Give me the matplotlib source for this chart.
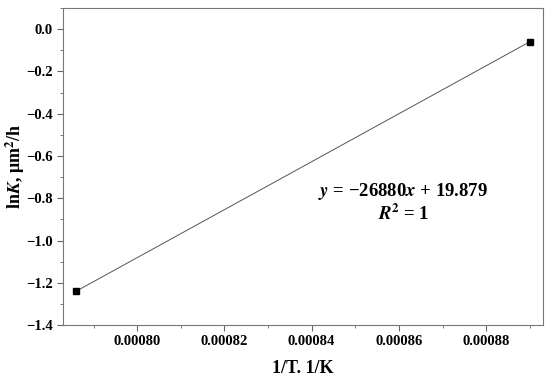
import matplotlib
matplotlib.use("Agg")
import matplotlib.pyplot as plt
from matplotlib.ticker import MultipleLocator, FormatStrFormatter, FuncFormatter

inv_T = [0.000786, 0.000890]
lnK = [-1.24, -0.06]
xticks = [0.00080, 0.00082, 0.00084, 0.00086, 0.00088]
yticks = [-1.4, -1.2, -1.0, -0.8, -0.6, -0.4, -0.2, 0.0]

plt.rcParams['font.family'] = 'Liberation Serif'
plt.rcParams['font.weight'] = 'bold'
plt.rcParams['mathtext.fontset'] = 'stix'

fig = plt.figure(figsize=(5.5, 3.78), dpi=100)
ax = fig.add_axes([0.1145, 0.140, 0.8725, 0.839])
ax.plot(inv_T, lnK, color='#555555', lw=0.7, zorder=1)
ax.plot(inv_T, lnK, 's', color='black', ms=5, zorder=2, linestyle='none')

ax.set_xlim(0.000783, 0.000893)
ax.set_ylim(-1.4, 0.1)
ax.set_xticks(xticks)
ax.set_yticks(yticks)
ax.xaxis.set_major_formatter(FormatStrFormatter('%.5f'))
ax.yaxis.set_major_formatter(FuncFormatter(lambda v, p: ('%.1f' % v).replace('-', '\u2212')))
ax.xaxis.set_minor_locator(MultipleLocator(0.00001))
ax.yaxis.set_minor_locator(MultipleLocator(0.1))
ax.tick_params(which='both', direction='out', top=False, right=False,
               color='#666666', labelsize=10.5)
ax.tick_params(which='major', length=4)
ax.tick_params(which='minor', length=2.5)
for lbl in ax.get_xticklabels() + ax.get_yticklabels():
    lbl.set_fontweight('bold')
for s in ax.spines.values():
    s.set_color('#777777')
    s.set_linewidth(0.8)

ax.set_xlabel('1/T. 1/K', fontsize=13, fontweight='bold', labelpad=8)
ax.set_ylabel(r'ln$\boldsymbol{K}$, μm$^{\mathbf{2}}$/h', fontsize=13, fontweight='bold')
ax.yaxis.set_label_coords(-0.074, 0.5)

ax.text(0.000861, -0.77, r'$\boldsymbol{y}$ = −26880$\boldsymbol{x}$ + 19.879',
        fontsize=13.5, ha='center', va='center', fontweight='bold')
ax.text(0.000861, -0.875, r'$\boldsymbol{R}^{\mathbf{2}}$ = 1',
        fontsize=13.5, ha='center', va='center', fontweight='bold')

fig.savefig('out.png', dpi=100)
